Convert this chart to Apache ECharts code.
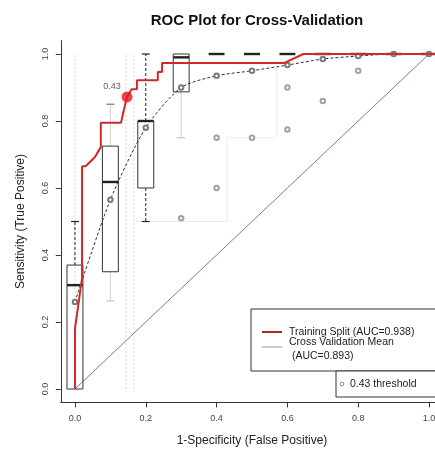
<!DOCTYPE html>
<html>
<head>
<meta charset="utf-8">
<script src="https://cdn.jsdelivr.net/npm/echarts@6/dist/echarts.min.js"></script>
<style>
html,body{margin:0;padding:0;background:#fff;}
#c{width:435px;height:452px;}
</style>
</head>
<body>
<div id="c"></div>
<script>
// ---- data ----
const xTicks = [0, 0.2, 0.4, 0.6, 0.8, 1.0];
const yTicks = [0, 0.2, 0.4, 0.6, 0.8, 1.0];

// training split ROC (step curve)
const redX = [0, 0, 0.02, 0.02, 0.03, 0.056, 0.073, 0.073, 0.13, 0.143, 0.147, 0.16, 0.175, 0.175, 0.234, 0.234, 0.246, 0.246, 0.59, 0.645, 1.0, 1.04];
const redY = [0, 0.18, 0.33, 0.665, 0.665, 0.692, 0.722, 0.795, 0.795, 0.855, 0.872, 0.895, 0.895, 0.922, 0.922, 0.946, 0.946, 0.973, 0.973, 1.0, 1.0, 1.0];

// cross validation mean
const meanX = [0, 0.1, 0.2, 0.3, 0.4, 0.5, 0.6, 0.7, 0.8, 0.9, 1.0];
const meanY = [0.26, 0.565, 0.78, 0.9, 0.935, 0.95, 0.967, 0.985, 0.994, 1.0, 1.0];

// boxplots of CV folds
const boxX    = [0, 0.1, 0.2, 0.3, 0.4, 0.5, 0.6, 0.7, 0.8, 0.9, 1.0];
const boxLow  = [0, 0.263, 0.5, 0.75, 1, 1, 1, 1, 1, 1, 1];
const boxQ1   = [0, 0.35, 0.6, 0.887, 1, 1, 1, 1, 1, 1, 1];
const boxMed  = [0.31, 0.618, 0.8, 0.99, 1, 1, 1, 1, 1, 1, 1];
const boxQ3   = [0.37, 0.725, 0.8, 1, 1, 1, 1, 1, 1, 1, 1];
const boxHigh = [0.5, 0.85, 1, 1, 1, 1, 1, 1, 1, 1, 1];

// outliers
const outX = [0.3, 0.4, 0.4, 0.5, 0.6, 0.6, 0.7, 0.8];
const outY = [0.51, 0.75, 0.6, 0.75, 0.9, 0.775, 0.86, 0.95];

// 0.43 threshold point
const thrX = [0.147];
const thrY = [0.872];
const thrLabel = '0.43';

// faint guide lines
const guideX = [0, 0.144, 0.166];
const envX = [0.166, 0.43, 0.43, 0.57, 0.57];
const envY = [0.5, 0.5, 0.75, 0.75, 0.96];

// diagonal
const diagX = [0, 1];
const diagY = [0, 1];

const legendTexts = ['Training Split (AUC=0.938)', 'Cross Validation Mean', ' (AUC=0.893)', '0.43 threshold'];

// ---- styling (not data) ----
const whiskerKind = ['dashed', 'light', 'dashed', 'light'];
const zip = (a, b) => a.map((v, i) => [v, b[i]]);

const chart = echarts.init(document.getElementById('c'));
const FONT = 'Liberation Sans, Arial, sans-serif';

const boxData = boxX.map((x, i) => [x, boxLow[i], boxQ1[i], boxMed[i], boxQ3[i], boxHigh[i], i]);

function renderBox(params, api) {
  const x = api.value(0);
  const lo = api.value(1), q1 = api.value(2), md = api.value(3), q3 = api.value(4), hi = api.value(5);
  const idx = api.value(6);
  const hw = api.size([0.045, 0])[0] / 2;
  const pLo = api.coord([x, lo]), pQ1 = api.coord([x, q1]), pMd = api.coord([x, md]);
  const pQ3 = api.coord([x, q3]), pHi = api.coord([x, hi]);
  const cx = pMd[0];
  const children = [];
  const kind = whiskerKind[idx] || 'light';
  const wStyle = kind === 'dashed'
    ? { stroke: '#222', lineWidth: 1, lineDash: [3, 2] }
    : { stroke: '#d2d2d2', lineWidth: 1 };
  if (hi > q3) {
    children.push({ type: 'line', shape: { x1: cx, y1: pQ3[1], x2: cx, y2: pHi[1] }, style: wStyle });
    children.push({ type: 'line', shape: { x1: cx - hw / 2, y1: pHi[1], x2: cx + hw / 2, y2: pHi[1] },
      style: { stroke: kind === 'dashed' ? '#222' : '#777', lineWidth: 1.2 } });
  }
  if (lo < q1) {
    children.push({ type: 'line', shape: { x1: cx, y1: pQ1[1], x2: cx, y2: pLo[1] }, style: wStyle });
    children.push({ type: 'line', shape: { x1: cx - hw / 2, y1: pLo[1], x2: cx + hw / 2, y2: pLo[1] },
      style: { stroke: kind === 'dashed' ? '#222' : '#c4c4c4', lineWidth: 1.2 } });
  }
  if (q3 > q1) {
    children.push({ type: 'rect', shape: { x: cx - hw, y: pQ3[1], width: hw * 2, height: pQ1[1] - pQ3[1] },
      style: { stroke: '#333', fill: 'none', lineWidth: 1 } });
  }
  children.push({ type: 'line', shape: { x1: cx - hw, y1: pMd[1], x2: cx + hw, y2: pMd[1] },
    style: { stroke: '#222', lineWidth: 2.4 } });
  return { type: 'group', children };
}

function renderGuide(params, api) {
  const x = api.value(0);
  const a = api.coord([x, 0]), b = api.coord([x, 1]);
  return { type: 'line', shape: { x1: a[0], y1: a[1], x2: b[0], y2: b[1] },
    style: { stroke: '#d9d9d9', lineWidth: 1, lineDash: [2, 2] } };
}

const option = {
  animation: false,
  backgroundColor: '#fff',
  title: {
    text: 'ROC Plot for Cross-Validation',
    left: 252, top: 8, textAlign: 'center',
    textStyle: { fontFamily: FONT, fontSize: 15, fontWeight: 'bold', color: '#111' }
  },
  grid: { left: 60.8, right: -8.2, top: 40.6, bottom: 49.6, outerBoundsMode: 'none', containLabel: false },
  xAxis: {
    type: 'value', min: -0.04, max: 1.04,
    name: '1-Specificity (False Positive)', nameLocation: 'middle', nameGap: 32,
    nameTextStyle: { fontFamily: FONT, fontSize: 12, color: '#222' },
    axisLine: { show: true, onZero: false, lineStyle: { color: '#333', width: 1 } },
    axisTick: { show: true, length: 5, customValues: xTicks, lineStyle: { color: '#333' } },
    axisLabel: { customValues: xTicks, margin: 12, fontFamily: FONT, fontSize: 9, color: '#444',
      formatter: v => Number(v).toFixed(1) },
    splitLine: { show: false }
  },
  yAxis: {
    type: 'value', min: -0.04, max: 1.04,
    name: 'Sensitivity (True Positive)', nameLocation: 'middle', nameGap: 34,
    nameTextStyle: { fontFamily: FONT, fontSize: 12, color: '#222' },
    axisLine: { show: true, onZero: false, lineStyle: { color: '#333', width: 1 } },
    axisTick: { show: true, length: 5, customValues: yTicks, lineStyle: { color: '#333' } },
    axisLabel: { customValues: yTicks, rotate: 90, margin: 11, fontFamily: FONT, fontSize: 9, color: '#444',
      formatter: v => Number(v).toFixed(1) },
    splitLine: { show: false }
  },
  series: [
    { type: 'custom', renderItem: renderGuide, data: guideX.map(x => [x]), encode: { x: 0 }, silent: true, z: 1 },
    { type: 'line', data: zip(envX, envY), showSymbol: false, lineStyle: { color: '#ececec', width: 1 }, z: 1, silent: true },
    { type: 'line', data: zip(diagX, diagY), showSymbol: false, lineStyle: { color: '#7878b4', width: 1 }, z: 2, silent: true },
    { type: 'custom', renderItem: renderBox, data: boxData, encode: { x: 0, y: [1, 2, 3, 4, 5] }, z: 3, silent: true },
    { type: 'scatter', data: zip(outX, outY), symbol: 'emptyCircle', symbolSize: 4.5,
      itemStyle: { color: '#8a8a8a', borderWidth: 0.7 }, z: 4, silent: true },
    { type: 'line', data: zip(meanX, meanY), smooth: 0.25, symbol: 'emptyCircle', symbolSize: 4.5, showSymbol: true,
      lineStyle: { color: '#333', width: 1, type: [3, 2] }, itemStyle: { color: '#7a7a7a', borderWidth: 0.7 }, z: 5, silent: true },
    { type: 'line', data: zip(redX, redY), showSymbol: false, lineStyle: { color: '#cf2a2a', width: 2 }, z: 6, silent: true },
    { type: 'scatter', data: zip(thrX, thrY), symbol: 'circle', symbolSize: 11,
      itemStyle: { color: '#e8161b' }, z: 7, silent: true,
      label: { show: true, formatter: thrLabel, position: 'inside', offset: [-15, -10],
        fontFamily: FONT, fontSize: 9, color: '#333' } }
  ],
  graphic: [
    { type: 'rect', shape: { x: 251, y: 309, width: 200, height: 62 },
      style: { fill: '#fff', stroke: '#333', lineWidth: 1 }, z: 100 },
    { type: 'rect', shape: { x: 336, y: 371, width: 110, height: 26 },
      style: { fill: '#fff', stroke: '#333', lineWidth: 1 }, z: 100 },
    { type: 'line', shape: { x1: 262, y1: 332, x2: 282, y2: 332 }, style: { stroke: '#b5232a', lineWidth: 2 }, z: 101 },
    { type: 'line', shape: { x1: 262, y1: 347, x2: 282, y2: 347 }, style: { stroke: '#999', lineWidth: 1 }, z: 101 },
    { type: 'text', x: 289, y: 332, style: { text: legendTexts[0], font: '10.5px ' + FONT, fill: '#222', textVerticalAlign: 'middle' }, z: 101 },
    { type: 'text', x: 289, y: 342, style: { text: legendTexts[1], font: '10.5px ' + FONT, fill: '#222', textVerticalAlign: 'middle' }, z: 101 },
    { type: 'text', x: 289, y: 356, style: { text: legendTexts[2], font: '10.5px ' + FONT, fill: '#222', textVerticalAlign: 'middle' }, z: 101 },
    { type: 'circle', shape: { cx: 342, cy: 384, r: 1.8 }, style: { fill: '#fff', stroke: '#777', lineWidth: 0.8 }, z: 101 },
    { type: 'text', x: 350, y: 384, style: { text: legendTexts[3], font: '10.5px ' + FONT, fill: '#222', textVerticalAlign: 'middle' }, z: 101 }
  ]
};
chart.setOption(option);
</script>
</body>
</html>
